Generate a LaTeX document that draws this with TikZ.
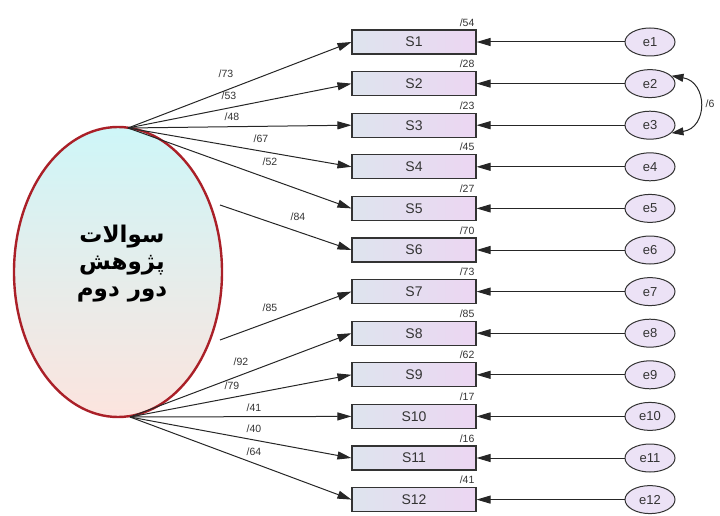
\documentclass[tikz,border=0pt]{standalone}
\usepackage{fontspec}
\setmainfont{Liberation Sans}
\newfontfamily\arabicfont[Script=Arabic]{DejaVu Sans}
\TeXXeTstate=1
\usetikzlibrary{arrows.meta,shapes.geometric}
\definecolor{boxL}{RGB}{222,228,238}
\definecolor{boxR}{RGB}{236,214,242}
\definecolor{ellTop}{RGB}{206,246,248}
\definecolor{ellBot}{RGB}{252,228,222}
\definecolor{ellRed}{RGB}{170,32,40}
\definecolor{errFill}{RGB}{236,226,246}
\begin{document}
\begin{tikzpicture}[x=1pt,y=-1pt,
  obsbox/.style={draw=black!80,line width=1.1pt,minimum width=124pt,minimum height=24pt,inner sep=0pt,
    left color=boxL,right color=boxR,font=\fontsize{14}{15}\selectfont,text=black!80},
  errnode/.style={ellipse,draw=black!80,line width=1pt,fill=errFill,minimum width=50pt,minimum height=28pt,
    inner sep=0pt,font=\fontsize{13}{14}\selectfont,text=black!80},
  lbl/.style={font=\fontsize{10.5}{11}\selectfont,text=black!80,inner sep=0pt},
  arr/.style={-{Triangle[length=14pt,width=8pt]},line width=1pt,black!85}]
\useasboundingbox (0,0) rectangle (720,516);
% latent
\node[ellipse,draw=ellRed,line width=2.4pt,top color=ellTop,bottom color=ellBot,
  minimum width=208pt,minimum height=290pt] (L) at (118,272) {};
\node[font=\arabicfont\bfseries\fontsize{23}{27}\selectfont,align=center] (Ltxt) at (122,264)
  {\beginR سوالات\endR\\ \beginR پژوهش\endR\\ \beginR دور دوم\endR};
\coordinate (T) at (128,128);
\coordinate (B) at (130,417);
\coordinate (M6) at (220,205);
\coordinate (M7) at (220,340);
% boxes, errors
\foreach \i in {1,...,12}{
  \pgfmathsetmacro\yy{42+(\i-1)*41.6}
  \node[obsbox] (S\i) at (414,\yy) {S\i};
  \node[errnode] (e\i) at (650,\yy) {e\i};
  \draw[arr] (e\i.west) -- (S\i.east);
}
% variance labels
\foreach \i/\v in {1/54,2/28,3/23,4/45,5/27,6/70,7/73,8/85,9/62,10/17,11/16,12/41}{
  \node[lbl,anchor=south east] (v\i) at ([xshift=-2pt,yshift=3pt]S\i.north east) {/\v};
}
% loadings
\foreach \i in {1,...,5}{ \draw[arr] (T) -- (S\i.west); }
\draw[arr] (M6) -- (S6.west);
\draw[arr] (M7) -- (S7.west);
\foreach \i in {8,...,12}{ \draw[arr] (B) -- (S\i.west); }
\node[lbl] (l1) at (226,74) {/73};
\node[lbl] (l2) at (229,96) {/53};
\node[lbl] (l3) at (232,117) {/48};
\node[lbl] (l4) at (261,139) {/67};
\node[lbl] (l5) at (270,162) {/52};
\node[lbl] (l6) at (298,217) {/84};
\node[lbl] (l7) at (270,308) {/85};
\node[lbl] (l8) at (241,362) {/92};
\node[lbl] (l9) at (232,386) {/79};
\node[lbl] (l10) at (254,408) {/41};
\node[lbl] (l11) at (254,429) {/40};
\node[lbl] (l12) at (254,452) {/64};
% covariance
\draw[{Triangle[length=12pt,width=8pt]}-{Triangle[length=12pt,width=8pt]},line width=1pt,black!85]
  (e2.20) .. controls (708,82) and (708,128) .. (e3.-20);
\node[lbl] (c23) at (710,104) {/6};
\end{tikzpicture}
\end{document}
